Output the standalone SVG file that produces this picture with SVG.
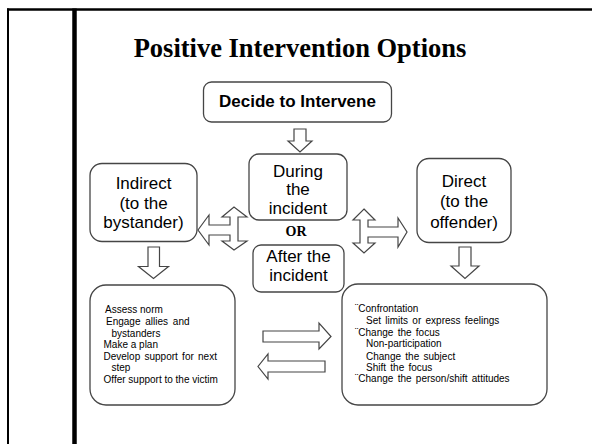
<svg xmlns="http://www.w3.org/2000/svg" width="592" height="444" viewBox="0 0 592 444">
<style>
.box{fill:#fff;stroke:#454545;stroke-width:1.3}
.arr{fill:#fff;stroke:#454545;stroke-width:1.2;stroke-linejoin:miter}
.t{font-family:"Liberation Sans",Arial,sans-serif;font-size:17px;fill:#000;text-anchor:middle}
.s{font-family:"Liberation Sans",Arial,sans-serif;font-size:10px;fill:#000}
.frame{stroke:#000;fill:none}
</style>
<rect width="592" height="444" fill="#fff"/>
<g id="frame">
<line class="frame" x1="7" y1="9.5" x2="592" y2="9.5" stroke-width="2.5"/>
<line class="frame" x1="8" y1="8.5" x2="8" y2="444" stroke-width="2"/>
<line class="frame" x1="74.5" y1="8.5" x2="74.5" y2="444" stroke-width="4.5"/>
</g>
<text id="title" x="300" y="57" font-family="'Liberation Serif','Times New Roman',serif" font-weight="bold" font-size="26.5" text-anchor="middle">Positive Intervention Options</text>
<g id="decide">
<rect class="box" x="203.5" y="82" width="188" height="40" rx="8"/>
<text class="t" x="297.5" y="107" font-weight="bold">Decide to Intervene</text>
</g>
<g id="during">
<rect class="box" x="249" y="154" width="98" height="66" rx="10"/>
<text class="t" x="298" y="176.5">During</text>
<text class="t" x="298" y="195">the</text>
<text class="t" x="298" y="213.5">incident</text>
</g>
<g id="or">
<text x="296" y="236" font-family="'Liberation Serif','Times New Roman',serif" font-weight="bold" font-size="14" text-anchor="middle">OR</text>
</g>
<g id="after">
<rect class="box" x="253" y="245" width="91" height="47" rx="8"/>
<text class="t" x="298.5" y="262">After the</text>
<text class="t" x="298.5" y="281">incident</text>
</g>
<g id="indirect">
<rect class="box" x="90" y="163.5" width="107" height="78" rx="12"/>
<text class="t" x="143.5" y="188.5">Indirect</text>
<text class="t" x="143.5" y="208.5">(to the</text>
<text class="t" x="143.5" y="228">bystander)</text>
</g>
<g id="direct">
<rect class="box" x="417" y="158.5" width="94" height="84" rx="12"/>
<text class="t" x="464" y="186.5">Direct</text>
<text class="t" x="464" y="207">(to the</text>
<text class="t" x="464" y="227.5">offender)</text>
</g>
<g id="indirect-actions">
<rect class="box" x="90" y="285" width="145" height="120" rx="16"/>
<text class="s" x="105" y="313">Assess norm</text>
<text class="s" x="106" y="325" word-spacing="2">Engage allies and</text>
<text class="s" x="111.5" y="336.5">bystanders</text>
<text class="s" x="103.5" y="348">Make a plan</text>
<text class="s" x="103.5" y="359.5" word-spacing="1.5">Develop support for next</text>
<text class="s" x="111.5" y="371">step</text>
<text class="s" x="103.5" y="382.5">Offer support to the victim</text>
</g>
<g id="direct-actions">
<rect class="box" x="342" y="284" width="205" height="121" rx="16"/>
<text class="s" x="355" y="311.5">¨Confrontation</text>
<text class="s" x="366" y="324" word-spacing="1.5">Set limits or express feelings</text>
<text class="s" x="355" y="336" word-spacing="1.5">¨Change the focus</text>
<text class="s" x="366" y="347">Non-participation</text>
<text class="s" x="366" y="359.5" word-spacing="1.5">Change the subject</text>
<text class="s" x="366" y="371" word-spacing="1.5">Shift the focus</text>
<text class="s" x="355" y="382" word-spacing="1.5">¨Change the person/shift attitudes</text>
</g>
<g id="connectors">
<polygon class="arr" points="294,129 306,129 306,141 312,141 300,152 288,141 294,141"/>
<polygon class="arr" points="198,230 209,215 209,225 230,225 230,217 222,217 234,207 247,217 238,217 238,241 247,241 234,250 222,241 230,241 230,235 209,235 209,245"/>
<polygon class="arr" points="364,209 375,220 368,220 368,227 398,227 398,218 407,232 398,247 398,237 368,237 368,243 375,243 364,253 353,243 360,243 360,220 353,220"/>
<polygon class="arr" points="148,247 159.5,247 159.5,266.5 168.5,266.5 153.5,278.5 138.5,266.5 148,266.5"/>
<polygon class="arr" points="459,247 471,247 471,266 479,266 465,278.5 451,266 459,266"/>
<polygon class="arr" points="263,331 319,331 319,323 331,336.5 319,349 319,342 263,342"/>
<polygon class="arr" points="325,361 268,361 268,354 258,366.5 268,379 268,372 325,372"/>
</g>
</svg>
